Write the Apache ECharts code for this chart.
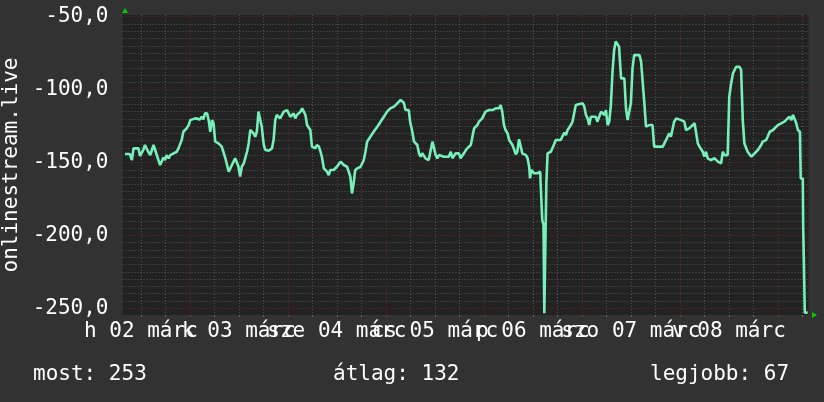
<!DOCTYPE html>
<html><head><meta charset="utf-8">
<script src="https://cdn.jsdelivr.net/npm/echarts@6/dist/echarts.min.js"></script>
<style>html,body{margin:0;padding:0;background:#323232}#c{width:824px;height:402px}</style>
</head><body><div id="c"></div>
<script>
// hours since 2 March 00:00
const hours = [8.1,9.3,9.8,10.2,11.4,11.8,12.2,12.6,13.0,13.4,13.8,14.3,14.7,15.1,15.5,15.9,16.3,16.7,17.1,17.5,17.9,18.3,18.8,19.2,20.0,20.8,21.2,21.6,22.0,22.4,23.2,23.7,24.1,24.5,25.3,26.5,26.9,27.3,27.7,28.2,28.6,29.0,29.4,29.8,30.2,31.0,31.8,32.2,32.7,33.1,33.5,33.9,34.3,34.7,35.1,35.5,35.9,36.3,36.7,37.2,37.6,38.0,38.4,38.8,39.2,39.6,40.0,40.4,40.8,41.2,41.6,42.1,42.5,43.3,44.1,44.5,44.9,45.3,46.1,47.0,47.8,48.2,48.6,49.4,49.8,50.2,51.1,51.5,51.9,52.3,52.7,53.5,53.9,54.7,55.1,55.6,56.0,56.4,56.8,57.6,58.0,58.4,59.2,60.0,60.9,61.7,62.5,62.9,63.3,63.7,64.1,64.5,65.0,65.8,66.6,67.0,67.4,68.2,69.0,69.9,70.7,71.5,72.3,73.1,74.0,74.8,75.6,76.0,76.4,76.8,77.6,78.0,78.4,78.9,79.7,80.1,80.5,80.9,81.3,81.7,82.1,82.5,82.9,83.4,83.8,84.2,84.6,85.0,85.4,86.2,86.6,87.4,87.9,88.3,89.1,89.9,90.3,91.1,91.9,92.8,93.2,93.6,94.4,94.8,95.6,96.4,96.8,97.3,98.1,98.9,99.7,100.1,100.5,100.9,101.3,101.8,102.2,102.6,103.0,103.4,103.8,104.2,104.6,105.0,105.4,106.3,106.7,107.1,107.3,107.6,108.3,109.1,109.8,109.9,110.3,110.6,110.8,111.2,111.3,111.6,112.4,112.8,113.2,113.6,114.8,115.2,115.7,116.1,116.5,116.9,117.3,117.7,118.1,118.5,118.9,120.2,120.6,121.0,121.4,121.8,122.2,122.6,123.4,123.8,124.2,124.7,125.1,125.5,125.9,126.3,126.7,127.1,127.5,127.9,128.3,128.7,129.1,129.6,130.4,130.8,131.2,131.6,132.0,132.4,132.8,134.1,134.5,134.9,135.3,135.7,136.1,136.5,137.3,137.7,138.6,139.0,139.8,140.2,140.6,141.0,141.4,141.8,142.2,142.6,143.1,143.5,144.3,144.7,145.1,145.5,145.9,146.3,146.7,147.6,148.0,148.4,148.8,149.2,149.6,150.0,150.4,150.8,151.2,151.6,152.5,152.9,153.3,154.1,154.5,154.9,155.3,155.7,156.1,156.5,157.0,157.4,157.8,158.2,158.6,159.0,159.4,159.8,160.6,161.0,161.5,161.9,162.3,163.1,163.9,164.3,165.1,165.5,166.0,166.8,167.2,168.0,168.8,169.6,170.4,170.9,171.3,171.7,172.1,172.5,172.9,173.4,173.6,174.1,174.2,174.5,174.6,175.3];
const values = [-144.2,-144.2,-148.3,-140.3,-140.3,-145.5,-146.0,-141.4,-138.0,-138.0,-142.6,-144.9,-141.4,-138.0,-141.4,-141.4,-148.3,-151.7,-149.4,-146.5,-148.3,-144.9,-147.1,-144.9,-143.7,-142.6,-140.3,-141.4,-134.6,-128.9,-126.6,-124.3,-120.9,-120.4,-119.7,-120.4,-118.6,-120.4,-116.3,-116.3,-120.9,-128.9,-120.9,-123.1,-135.7,-136.9,-139.1,-142.6,-147.1,-151.7,-156.3,-154.0,-151.7,-149.4,-147.1,-146.0,-152.9,-159.7,-152.9,-150.6,-150.6,-142.6,-136.9,-127.7,-126.6,-130.0,-132.3,-128.9,-115.1,-115.1,-125.4,-138.0,-141.4,-141.9,-140.3,-134.6,-120.9,-117.4,-119.7,-115.1,-114.0,-116.3,-118.6,-116.3,-119.7,-117.4,-115.1,-112.9,-112.9,-117.4,-124.3,-127.7,-139.1,-140.3,-138.0,-139.1,-142.6,-147.1,-154.0,-156.3,-158.6,-155.1,-155.1,-152.9,-149.4,-151.7,-152.9,-154.0,-159.7,-171.2,-164.3,-155.1,-154.0,-152.9,-148.3,-142.6,-135.7,-132.3,-128.9,-125.4,-122.0,-118.6,-115.1,-112.9,-111.7,-109.4,-107.1,-108.3,-109.0,-114.0,-114.0,-123.1,-127.7,-135.7,-138.0,-143.7,-146.0,-143.7,-144.9,-147.1,-146.0,-148.3,-142.6,-135.7,-135.7,-144.9,-147.1,-144.9,-146.0,-146.0,-144.9,-146.0,-142.6,-147.1,-143.7,-143.7,-147.1,-143.7,-140.3,-138.0,-132.3,-126.6,-124.3,-122.0,-119.7,-115.1,-116.3,-114.0,-114.0,-112.8,-112.8,-110.6,-115.1,-124.0,-127.7,-130.0,-134.6,-135.7,-138.0,-141.0,-144.3,-142.6,-134.0,-138.5,-143.7,-144.9,-147.0,-153.0,-160.9,-155.1,-157.4,-157.4,-156.3,-164.3,-189.4,-192.9,-253.4,-253.4,-164.3,-143.7,-142.6,-142.6,-137.5,-134.6,-134.6,-132.3,-129.5,-131.1,-127.7,-128.9,-124.3,-122.0,-116.3,-110.6,-109.4,-109.4,-111.7,-117.4,-119.7,-124.3,-118.6,-117.4,-118.6,-122.0,-123.1,-115.1,-116.3,-117.4,-114.0,-124.3,-122.0,-110.6,-87.7,-72.8,-67.0,-68.3,-70.5,-92.3,-92.3,-112.8,-120.9,-115.1,-109.4,-85.4,-76.3,-76.3,-80.8,-82.0,-109.4,-125.4,-125.4,-124.3,-124.3,-139.1,-139.1,-140.3,-139.1,-140.3,-134.6,-133.4,-130.0,-132.3,-132.3,-122.0,-119.7,-120.9,-120.9,-122.0,-122.0,-127.7,-128.9,-126.6,-125.4,-123.1,-124.3,-136.9,-139.1,-140.3,-142.6,-146.0,-142.6,-147.1,-146.0,-148.3,-147.1,-148.3,-149.4,-150.6,-142.6,-144.9,-146.0,-144.9,-104.8,-96.8,-88.8,-86.5,-84.3,-83.1,-84.3,-86.5,-120.9,-136.9,-142.6,-143.7,-146.0,-146.0,-143.7,-141.4,-138.0,-135.7,-134.6,-132.3,-128.9,-127.7,-127.7,-124.3,-123.1,-122.0,-119.7,-118.6,-120.9,-117.4,-118.6,-123.1,-127.7,-128.9,-160.9,-161.0,-194.0,-194.0,-253.0,-253.0];
const dayLabelHours = [12,36,60,84,108,132,156];
const dayLabels = ['h 02 márc','k 03 márc','sze 04 márc','cs 05 márc','p 06 márc','szo 07 márc','v 08 márc'];
const dayLineHours = [24,48,72,96,120,144,168];
const yLabelValues = [-250,-200,-150,-100,-50];
const yAxisName = 'onlinestream.live';
const legendTexts = ['most: 253','átlag: 132','legjobb: 67'];

const FONT = '"DejaVu Sans Mono", monospace';
const minorX = [];
for (let h = 12; h <= 174; h += 6) if (dayLineHours.indexOf(h) < 0) minorX.push(h);
const minorY = [];
for (let v = -250; v <= -50; v += 5) if (yLabelValues.indexOf(v) < 0) minorY.push(v);
// the day labels overlap each other as in the original; split them over two axes
const evenLabelHours = dayLabelHours.filter((h, i) => i % 2 === 0);
const oddLabelHours = dayLabelHours.filter((h, i) => i % 2 === 1);
const dayLabelFor = v => dayLabels[dayLabelHours.indexOf(Math.round(v))] || '';

const grayLine = {color: 'rgba(128,128,128,0.55)', type: [1, 2], width: 1};
const redLine = {color: 'rgba(190,40,40,0.5)', type: [1, 2], width: 1};
const labelStyle = {hideOverlap: false, showMinLabel: true, showMaxLabel: true,
  margin: 6, color: '#ffffff', fontFamily: FONT, fontSize: 21, formatter: dayLabelFor};

const chart = echarts.init(document.getElementById('c'), null, {renderer: 'canvas'});
chart.setOption({
  backgroundColor: '#323232',
  animation: false,
  grid: {left: 122.5, top: 15, width: 686, height: 300, show: true, backgroundColor: '#222222', borderWidth: 0,
         containLabel: false, outerBoundsMode: 'none'},
  xAxis: [
    {type: 'value', min: 7.5, max: 175.5, position: 'bottom',
     axisLine: {show: false},
     axisTick: {show: true, length: 2, customValues: minorX, lineStyle: {color: 'rgba(128,128,128,0.7)'}},
     splitLine: {show: true, lineStyle: grayLine},
     axisLabel: Object.assign({customValues: evenLabelHours}, labelStyle)},
    {type: 'value', min: 7.5, max: 175.5, position: 'bottom',
     axisLine: {show: false},
     axisTick: {show: true, length: 2, customValues: dayLineHours, lineStyle: {color: 'rgba(190,40,40,0.8)'}},
     splitLine: {show: true, lineStyle: redLine},
     axisLabel: {show: false}},
    {type: 'value', min: 7.5, max: 175.5, position: 'bottom',
     axisLine: {show: false},
     axisTick: {show: false},
     splitLine: {show: false},
     axisLabel: Object.assign({customValues: oddLabelHours}, labelStyle)}
  ],
  yAxis: [
    {type: 'value', min: -254.6, max: -48.8, position: 'left',
     axisLine: {show: false},
     axisTick: {show: false, customValues: minorY},
     splitLine: {show: true, lineStyle: grayLine},
     axisLabel: {customValues: yLabelValues, showMinLabel: true, showMaxLabel: true, margin: 14, color: '#ffffff', fontFamily: FONT, fontSize: 21,
       formatter: v => v.toFixed(1).replace('.', ',')},
     name: yAxisName, nameLocation: 'middle', nameRotate: 90, nameGap: 98,
     nameTextStyle: {color: '#ffffff', fontFamily: FONT, fontSize: 21}},
    {type: 'value', min: -254.6, max: -48.8, position: 'left',
     axisLine: {show: false},
     axisTick: {show: false, customValues: yLabelValues},
     splitLine: {show: true, lineStyle: redLine},
     axisLabel: {show: false}}
  ],
  series: [{
    type: 'line', xAxisIndex: 0, yAxisIndex: 0,
    data: hours.map((h, i) => [h, values[i]]),
    showSymbol: false, symbol: 'none',
    lineStyle: {color: '#76efb8', width: 2.6},
    z: 5
  }],
  graphic: [
    {type: 'polygon', shape: {points: [[122, 13], [128, 13], [125, 8]]}, style: {fill: '#00cc00'}},
    {type: 'polygon', shape: {points: [[812, 312], [812, 318], [817, 315]]}, style: {fill: '#00cc00'}},
    {type: 'text', x: 33, y: 375, style: {text: legendTexts[0], fill: '#ffffff', font: '21px ' + FONT, verticalAlign: 'middle'}},
    {type: 'text', x: 333, y: 375, style: {text: legendTexts[1], fill: '#ffffff', font: '21px ' + FONT, verticalAlign: 'middle'}},
    {type: 'text', x: 650, y: 375, style: {text: legendTexts[2], fill: '#ffffff', font: '21px ' + FONT, verticalAlign: 'middle'}}
  ]
});
</script>
</body></html>
